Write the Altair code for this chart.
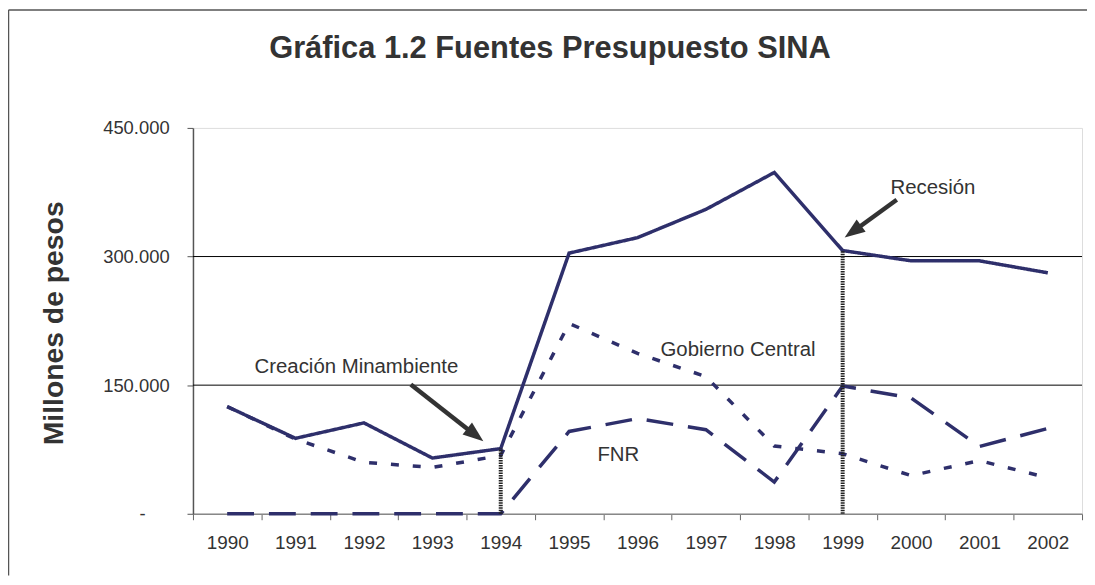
import altair as alt
import pandas as pd

# ---------------- data ----------------
YEARS = [1990, 1991, 1992, 1993, 1994, 1995, 1996, 1997, 1998, 1999, 2000, 2001, 2002]
# millones de pesos
TOTAL = [125000, 88000, 106000, 65000, 76000, 304000, 322000, 355000, 398000, 307000, 295000, 295000, 281000]
GOBIERNO = [125000, 87000, 60000, 54000, 68000, 222000, 187000, 160000, 79000, 70000, 44500, 62000, 42000]
FNR = [0, 0, 0, 0, 0, 96000, 111000, 98000, 37000, 149000, 135000, 78500, 99500]

SERIES = ["Total", "Gobierno Central", "FNR"]
Y_TICKS = [0, 150000, 300000, 450000]
GRID_VALUES = [150000, 300000]

MARK_YEARS = [1994, 1999]

NOTE_TEXT = ["Creación Minambiente", "Gobierno Central", "FNR", "Recesión"]
NOTE_X = [1991.89, 1997.47, 1995.72, 2000.32]
NOTE_Y = [171700, 191400, 68400, 380400]

ARROW_X0 = [1992.685, 1999.791]
ARROW_Y0 = [150800, 366200]
ARROW_X1 = [1993.63, 1999.147]
ARROW_Y1 = [91600, 328900]
HEAD_X = [1993.746, 1999.029]
HEAD_Y = [84700, 322100]
HEAD_ANGLE = [128, 234]

TITLE = ["Gráfica 1.2 Fuentes Presupuesto SINA"]
Y_TITLE = "Millones de pesos"

# ---------------- tables ----------------
rows = []
for name, vals in zip(SERIES, [TOTAL, GOBIERNO, FNR]):
    for yr, v in zip(YEARS, vals):
        rows.append({"year": yr, "value": v, "series": name})
lines_df = pd.DataFrame(rows)

marks_df = pd.DataFrame({
    "year": MARK_YEARS,
    "top": [TOTAL[YEARS.index(y)] for y in MARK_YEARS],
    "base": [0 for _ in MARK_YEARS],
})
notes_df = pd.DataFrame({"text": NOTE_TEXT, "x": NOTE_X, "y": NOTE_Y})
arrows_df = pd.DataFrame({"x0": ARROW_X0, "y0": ARROW_Y0, "x1": ARROW_X1, "y1": ARROW_Y1})
heads_df = pd.DataFrame({"x": HEAD_X, "y": HEAD_Y, "angle": HEAD_ANGLE})
grid_df = pd.DataFrame({"v": GRID_VALUES})
title_df = pd.DataFrame({"t": TITLE})

FONT = "Liberation Sans"
NAVY = "#2e2f6b"
W, H = 894, 388

x_ticks = [y - 0.5 for y in YEARS] + [YEARS[-1] + 0.5]
x_scale = alt.Scale(domain=[YEARS[0] - 0.5, YEARS[-1] + 0.5], nice=False, zero=False)
y_scale = alt.Scale(domain=[0, 450000], nice=False)

x_axis = alt.Axis(
    values=x_ticks, title=None, grid=False,
    labelExpr="datum.value > 2002 ? '' : format(datum.value + 0.5, 'd')",
    labelOffset=W / len(YEARS) / 2, labelFont=FONT, labelFontSize=19, labelColor="#333",
    labelPadding=14, tickSize=6, tickColor="#666", domainColor="#888", domainWidth=1.5,
    labelFlush=False, labelOverlap=False,
)
y_axis = alt.Axis(
    values=Y_TICKS, grid=False, title=Y_TITLE,
    labelExpr="datum.value == 0 ? '-' : replace(format(datum.value, ','), ',', '.')",
    labelFont=FONT, labelFontSize=18.5, labelColor="#333",
    labelPadding={"condition": {"test": "datum.value == 0", "value": 42}, "value": 18},
    tickSize=6, tickColor="#555", domainColor="#555", domainWidth=1.5,
    titleFont=FONT, titleFontSize=28.5, titleFontWeight="bold", titleColor="#333",
    titleAngle=270, titleX=-140, titleY=196, titleAlign="center", titleBaseline="middle",
)

grid = alt.Chart(grid_df).mark_rule(color="#000000", strokeWidth=1).encode(
    y=alt.Y("v:Q", scale=y_scale, axis=y_axis)
)

lines = alt.Chart(lines_df).mark_line(color=NAVY, strokeWidth=3.5).encode(
    x=alt.X("year:Q", scale=x_scale, axis=x_axis),
    y=alt.Y("value:Q", scale=y_scale),
    strokeDash=alt.StrokeDash(
        "series:N",
        scale=alt.Scale(domain=SERIES, range=[[1, 0], [8, 14], [27, 15]]),
        legend=None,
    ),
)

markers = alt.Chart(marks_df).mark_rule(color="#222222", strokeWidth=4, strokeDash=[1.5, 1]).encode(
    x=alt.X("year:Q", scale=x_scale),
    y=alt.Y("base:Q", scale=y_scale),
    y2="top:Q",
)

arrows = alt.Chart(arrows_df).mark_rule(color="#333333", strokeWidth=4.5).encode(
    x=alt.X("x0:Q", scale=x_scale), y=alt.Y("y0:Q", scale=y_scale), x2="x1:Q", y2="y1:Q"
)

heads = alt.Chart(heads_df).mark_point(
    shape="M0,0L0.75,2L-0.75,2Z", filled=True, color="#333333", opacity=1, size=420, strokeWidth=0
).encode(
    x=alt.X("x:Q", scale=x_scale), y=alt.Y("y:Q", scale=y_scale),
    angle=alt.Angle("angle:Q", scale=None),
)

notes = alt.Chart(notes_df).mark_text(font=FONT, fontSize=20.5, color="#333333", align="center", baseline="middle").encode(
    x=alt.X("x:Q", scale=x_scale), y=alt.Y("y:Q", scale=y_scale), text="text:N"
)

title = alt.Chart(title_df).mark_text(
    font=FONT, fontSize=31, fontWeight="bold", color="#333333", align="center", baseline="middle"
).encode(x=alt.value(359), y=alt.value(-79), text="t:N")

frame_left = alt.Chart(grid_df.head(1)).mark_rule(color="#555555", strokeWidth=1.5).encode(
    x=alt.value(-185.5), y=alt.value(-118.5), y2=alt.value(H + 62)
)
frame_top = alt.Chart(grid_df.head(1)).mark_rule(color="#555555", strokeWidth=1.5).encode(
    x=alt.value(-185.5), x2=alt.value(W + 5), y=alt.value(-118.5)
)

chart = alt.layer(grid, lines, markers, arrows, heads, notes, title, frame_left, frame_top).properties(
    width=W, height=H,
    autosize=alt.AutoSizeParams(type="none"),
    padding={"left": 186, "top": 119, "right": 5, "bottom": 62},
).configure_view(stroke="#8c8c8c", strokeWidth=1.5).configure(background="white")

chart.save("out.html", embed_options={"renderer": "svg", "actions": False})
